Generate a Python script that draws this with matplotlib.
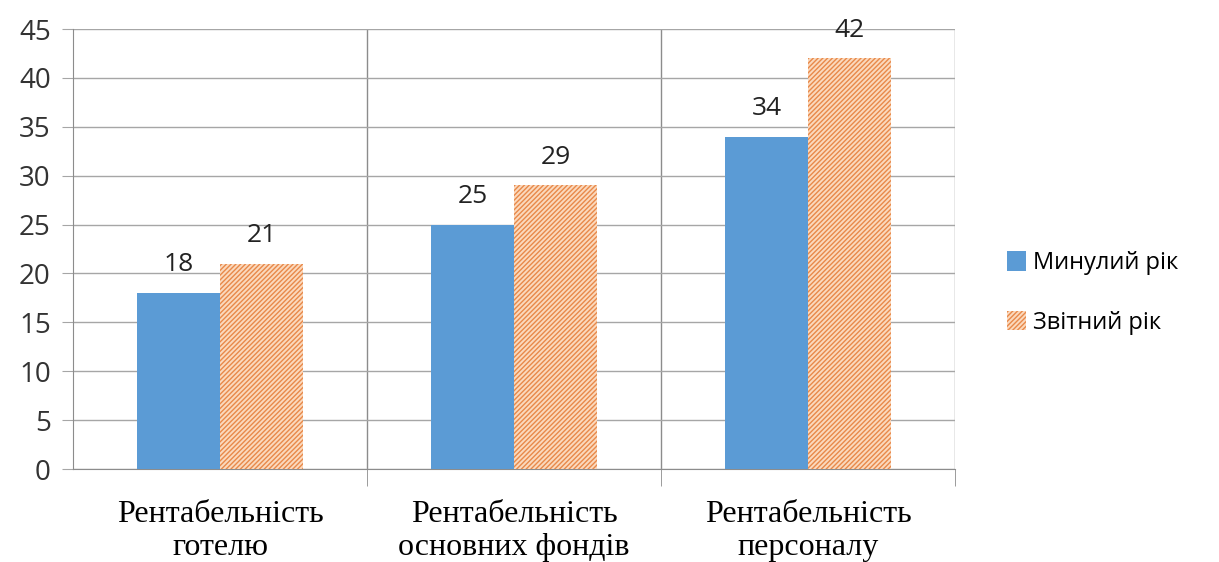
import numpy as np
import matplotlib.pyplot as plt
import matplotlib as mpl

categories = ['Рентабельність\nготелю', 'Рентабельність\nосновних фондів', 'Рентабельність\nперсоналу']
last_year = [18, 25, 34]
this_year = [21, 29, 42]
series_names = ['Минулий рік', 'Звітний рік']

mpl.rcParams['hatch.linewidth'] = 1.0
mpl.rcParams['hatch.color'] = '#e8894a'

fig = plt.figure(figsize=(12.19, 5.62), dpi=100)
ax = fig.add_axes([73/1219, 1-469/562, (955-73)/1219, (469-29)/562])

x = np.arange(len(categories))
w = 0.283
b1 = ax.bar(x - w/2, last_year, w, color='#5b9bd5', label=series_names[0], zorder=3)
b2 = ax.bar(x + w/2, this_year, w, facecolor='#fbd9bd', edgecolor='#e8894a', linewidth=0,
            hatch='///////', label=series_names[1], zorder=3)

for bars in (b1, b2):
    for r in bars:
        ax.text(r.get_x() + r.get_width()/2, r.get_height() + 1.6, str(int(r.get_height())),
                ha='center', va='bottom', fontsize=19, family='Open Sans', color='#222222')

ax.set_xlim(-0.5, 2.5)
ax.set_ylim(0, 45)
ax.set_yticks(range(0, 46, 5))
ax.yaxis.grid(True, color='#a6a6a6', linewidth=1, zorder=0)
ax.tick_params(axis='y', length=8, color='#a6a6a6', labelsize=20, pad=8)
for lab in ax.get_yticklabels():
    lab.set_family('Open Sans')
    lab.set_color('#333333')

ax.set_xticks(x)
ax.set_xticklabels(categories, family='Liberation Serif', fontsize=23, linespacing=1.2)
ax.tick_params(axis='x', which='major', length=0, pad=22)
ax.set_xticks([0.5, 1.5, 2.5], minor=True)
ax.tick_params(axis='x', which='minor', length=12, color='#8c8c8c')
ax.xaxis.grid(True, which='minor', color='#8c8c8c', linewidth=1, zorder=0)

for s in ['top', 'right']:
    ax.spines[s].set_visible(False)
ax.spines['left'].set_color('#8c8c8c')
ax.spines['bottom'].set_color('#8c8c8c')

leg = ax.legend(loc='center left', bbox_to_anchor=(1.035, 0.40), frameon=False,
                prop={'family': 'Open Sans', 'size': 17}, handlelength=0.8, handleheight=0.9,
                handletextpad=0.3, labelspacing=1.5)

fig.savefig('out.png', dpi=100)
